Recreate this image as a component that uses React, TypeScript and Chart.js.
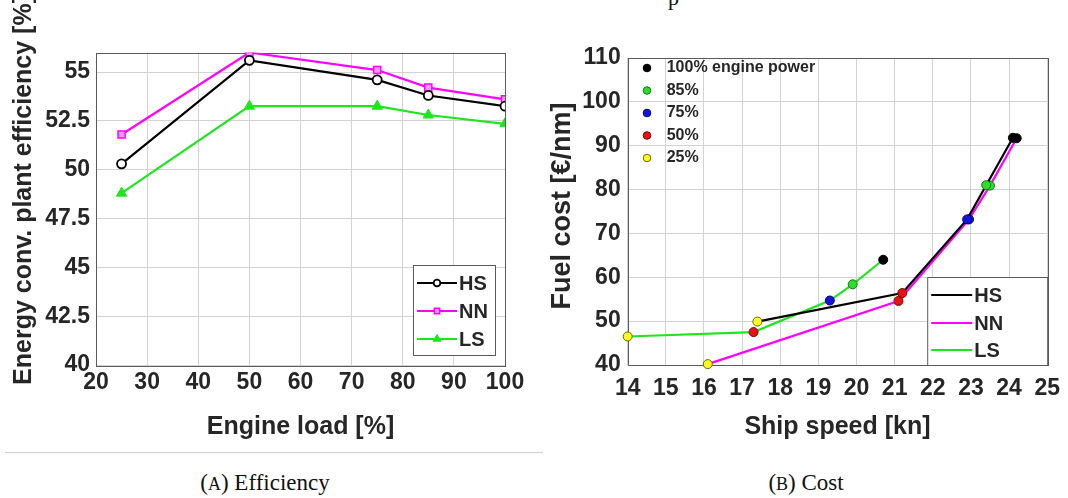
import React, { useEffect, useRef } from "react";
import { Chart, registerables } from "chart.js";
import { drawPoint } from "chart.js/helpers";

Chart.register(...registerables);

// ---------- Data: (A) Efficiency ----------
const effLoad = [25, 50, 75, 85, 100];
const effHS = [50.3, 55.6, 54.6, 53.8, 53.25];
const effNN = [51.8, 56.0, 55.1, 54.2, 53.6];
const effLS = [48.8, 53.25, 53.25, 52.8, 52.35];
const effYTicks = [40, 42.5, 45, 47.5, 50, 52.5, 55];

// ---------- Data: (B) Cost ----------
// points ordered by engine power: 25%, 50%, 75%, 85%, 100%
const hsSpeed = [17.4, 21.2, 22.9, 23.4, 24.1];
const hsCost = [49.9, 56.4, 73.2, 81.0, 91.8];
const nnSpeed = [16.1, 21.1, 22.95, 23.5, 24.2];
const nnCost = [40.2, 54.6, 73.2, 80.9, 91.7];
const lsSpeed = [14.0, 17.3, 19.3, 19.9, 20.7];
const lsCost = [46.5, 47.5, 54.7, 58.4, 64.0];
const powerLabels = ["25%", "50%", "75%", "85%", "100% engine power"];
const powerColors = ["#ffff1a", "#e41414", "#1414e0", "#2edc2e", "#000000"];
const powerBorders = ["#6e6400", "#800000", "#00006e", "#137a13", "#000000"];

const TEXT = "#262626";
const SANS = '"Liberation Sans", Arial, sans-serif';
const GRID = "#d3d3d3";

function frame(id: string, extras: (c: any) => void) {
  return {
    id,
    beforeDatasetsDraw(chart: any) {
      const { ctx, chartArea: a } = chart;
      ctx.save();
      ctx.strokeStyle = "#5a5a5a";
      ctx.lineWidth = 1;
      ctx.strokeRect(Math.round(a.left) + 0.5, Math.round(a.top) + 0.5, Math.round(a.right - a.left), Math.round(a.bottom - a.top));
      ctx.restore();
    },
    afterDraw(chart: any) {
      extras(chart);
    },
  };
}

function lineLegend(chart: any, x: number, y: number, w: number, h: number, rows: number[], lineLen: number, withMarker: boolean) {
  const ctx = chart.ctx;
  ctx.save();
  ctx.fillStyle = "#ffffff";
  ctx.fillRect(x, y, w, h);
  ctx.strokeStyle = "#5a5a5a";
  ctx.lineWidth = 1;
  ctx.strokeRect(x + 0.5, y + 0.5, w, h);
  chart.data.datasets.forEach((ds: any, i: number) => {
    const yy = y + rows[i];
    ctx.strokeStyle = ds.borderColor;
    ctx.lineWidth = 2.2;
    ctx.beginPath();
    ctx.moveTo(x + 4, yy);
    ctx.lineTo(x + 4 + lineLen, yy);
    ctx.stroke();
    if (withMarker) {
      ctx.fillStyle = ds.pointBackgroundColor;
      ctx.strokeStyle = ds.pointBorderColor;
      ctx.lineWidth = ds.pointBorderWidth;
      drawPoint(ctx, { pointStyle: ds.pointStyle, radius: ds.pointRadius * 0.75, rotation: 0, borderWidth: ds.pointBorderWidth }, x + 4 + lineLen / 2, yy);
    }
    ctx.fillStyle = TEXT;
    ctx.font = `bold 20px ${SANS}`;
    ctx.textAlign = "left";
    ctx.textBaseline = "middle";
    ctx.fillText(ds.label, x + 6 + lineLen, yy + 1);
  });
  ctx.restore();
}

function yTitle(chart: any, text: string, x: number, y: number, size: number) {
  const ctx = chart.ctx;
  ctx.save();
  ctx.fillStyle = TEXT;
  ctx.font = `bold ${size}px ${SANS}`;
  ctx.translate(x, y);
  ctx.rotate(-Math.PI / 2);
  ctx.textAlign = "center";
  ctx.textBaseline = "middle";
  ctx.fillText(text, 0, 0);
  ctx.restore();
}

const tickFont = { family: SANS, size: 23, weight: "bold" as const };
const xTickFontCost = { family: SANS, size: 23, weight: "bold" as const, lineHeight: 1.35 };
const titleFont = { family: SANS, size: 25, weight: "bold" as const };

export default function App() {
  const effRef = useRef<HTMLCanvasElement>(null);
  const costRef = useRef<HTMLCanvasElement>(null);

  useEffect(() => {
    const eff = new Chart(effRef.current!, {
      type: "line",
      data: {
        labels: effLoad,
        datasets: [
          { label: "HS", data: effLoad.map((x, i) => ({ x, y: effHS[i] })), borderColor: "#000000", borderWidth: 2.2, pointStyle: "circle", pointRadius: 4.5, pointBackgroundColor: "#ffffff", pointBorderColor: "#000000", pointBorderWidth: 1.8, tension: 0 },
          { label: "NN", data: effLoad.map((x, i) => ({ x, y: effNN[i] })), borderColor: "#ff00ff", borderWidth: 2.2, pointStyle: "rect", pointRadius: 5, pointBackgroundColor: "#f59af5", pointBorderColor: "#ff00ff", pointBorderWidth: 1.5, tension: 0 },
          { label: "LS", data: effLoad.map((x, i) => ({ x, y: effLS[i] })), borderColor: "#1ee61e", borderWidth: 2.2, pointStyle: "triangle", pointRadius: 6, pointBackgroundColor: "#1ee61e", pointBorderColor: "#1ee61e", pointBorderWidth: 1, tension: 0 },
        ],
      },
      options: {
        animation: false,
        responsive: false,
        devicePixelRatio: 1,
        layout: { padding: { top: 52.5, right: 35, left: 0, bottom: 0 } },
        plugins: { legend: { display: false }, tooltip: { enabled: false } },
        scales: {
          x: {
            type: "linear",
            min: 20,
            max: 100,
            afterFit: (s: any) => { s.height = 85; },
            ticks: { stepSize: 10, font: tickFont, color: TEXT, padding: 4, maxRotation: 0 },
            grid: { color: GRID, drawTicks: false },
            border: { display: false },
            title: { display: true, text: "Engine load [%]", font: titleFont, color: TEXT, padding: { top: 0, bottom: 8 } },
          },
          y: {
            min: 40,
            max: 56,
            afterFit: (s: any) => { s.width = 96; },
            afterBuildTicks: (s: any) => { s.ticks = effYTicks.map((v) => ({ value: v })); },
            ticks: { font: tickFont, color: TEXT, padding: 6 },
            grid: { color: GRID, drawTicks: false },
            border: { display: false },
          },
        },
      },
      plugins: [
        frame("effFrame", (c) => {
          yTitle(c, "Energy conv. plant efficiency [%]", 24, 190, 25);
          const a = c.chartArea;
          lineLegend(c, a.right - 92, a.top + 212.5, 82, 90, [18, 46, 74], 40, true);
        }),
      ],
    } as any);

    const mk = (sp: number[], co: number[]) => sp.map((x, i) => ({ x, y: co[i] }));
    const cost = new Chart(costRef.current!, {
      type: "line",
      data: {
        datasets: [
          { label: "HS", data: mk(hsSpeed, hsCost), borderColor: "#000000", borderWidth: 2.2, pointRadius: 4.5, pointBackgroundColor: powerColors, pointBorderColor: powerBorders, pointBorderWidth: 1, tension: 0, clip: false },
          { label: "NN", data: mk(nnSpeed, nnCost), borderColor: "#ff00ff", borderWidth: 2.2, pointRadius: 4.5, pointBackgroundColor: powerColors, pointBorderColor: powerBorders, pointBorderWidth: 1, tension: 0, clip: false },
          { label: "LS", data: mk(lsSpeed, lsCost), borderColor: "#1ee61e", borderWidth: 2.2, pointRadius: 4.5, pointBackgroundColor: powerColors, pointBorderColor: powerBorders, pointBorderWidth: 1, tension: 0, clip: false },
        ],
      },
      options: {
        animation: false,
        responsive: false,
        devicePixelRatio: 1,
        layout: { padding: { top: 58, right: 20.3, left: 0, bottom: 0 } },
        plugins: { legend: { display: false }, tooltip: { enabled: false } },
        scales: {
          x: {
            type: "linear",
            min: 14,
            max: 25,
            afterFit: (s: any) => { s.height = 85; },
            ticks: { stepSize: 1, font: xTickFontCost, color: TEXT, padding: 8, maxRotation: 0 },
            grid: { color: GRID, drawTicks: false },
            border: { display: false },
            title: { display: true, text: "Ship speed [kn]", font: titleFont, color: TEXT, padding: { top: 0, bottom: 8 } },
          },
          y: {
            min: 40,
            max: 110,
            afterFit: (s: any) => { s.width = 87.7; },
            ticks: { stepSize: 10, font: tickFont, color: TEXT, padding: 7 },
            grid: { color: GRID, drawTicks: false },
            border: { display: false },
          },
        },
      },
      plugins: [
        frame("costFrame", (c) => {
          yTitle(c, "Fuel cost [€/nm]", 23, 206, 27);
          const a = c.chartArea;
          lineLegend(c, a.right - 120, a.bottom - 88, 120, 88, [18, 46, 73], 41, false);
          const ctx = c.ctx;
          ctx.save();
          for (let k = 0; k < powerLabels.length; k++) {
            const i = powerLabels.length - 1 - k;
            const yy = a.top + 10 + k * 22.5;
            ctx.fillStyle = powerColors[i];
            ctx.strokeStyle = powerBorders[i];
            ctx.lineWidth = 1;
            ctx.beginPath();
            ctx.arc(a.left + 19.3, yy, 3.8, 0, Math.PI * 2);
            ctx.fill();
            ctx.stroke();
            ctx.fillStyle = TEXT;
            ctx.font = `bold 16px ${SANS}`;
            ctx.textAlign = "left";
            ctx.textBaseline = "middle";
            ctx.fillText(powerLabels[i], a.left + 39, yy);
          }
          ctx.restore();
        }),
      ],
    } as any);

    return () => {
      eff.destroy();
      cost.destroy();
    };
  }, []);

  const captionStyle: React.CSSProperties = {
    position: "absolute",
    top: 468,
    fontFamily: '"Liberation Serif", "Times New Roman", serif',
    fontSize: 23,
    lineHeight: "30px",
    color: "#111",
    transform: "translateX(-50%)",
    whiteSpace: "nowrap",
  };

  return (
    <div style={{ position: "absolute", left: 0, top: 0, width: 1068, height: 498, overflow: "hidden", background: "#ffffff" }}>
      <div style={{ position: "absolute", left: 668, top: -13, fontFamily: '"Liberation Serif", serif', fontSize: 22, lineHeight: "22px", color: "#111" }}>p</div>
      <canvas ref={effRef} width={540} height={450} style={{ position: "absolute", left: 0, top: 0, width: 540, height: 450 }} />
      <canvas ref={costRef} width={528} height={450} style={{ position: "absolute", left: 540, top: 0, width: 528, height: 450 }} />
      <div style={{ position: "absolute", left: 5, top: 452, width: 538, height: 1, background: "#cfcfcf" }} />
      <div style={{ ...captionStyle, left: 265 }}>
        (<span style={{ fontSize: "0.78em" }}>A</span>) Efficiency
      </div>
      <div style={{ ...captionStyle, left: 806 }}>
        (<span style={{ fontSize: "0.78em" }}>B</span>) Cost
      </div>
    </div>
  );
}
